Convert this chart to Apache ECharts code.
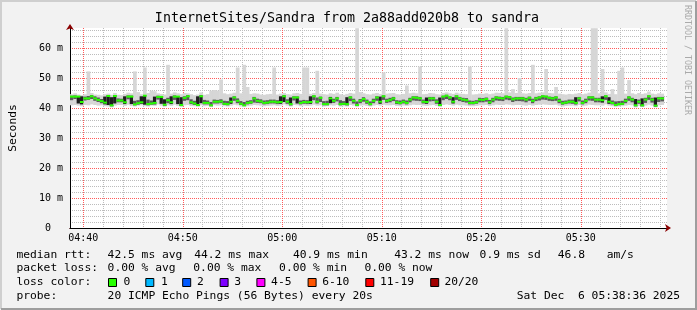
<!DOCTYPE html>
<html><head><meta charset="utf-8">
<script src="https://cdn.jsdelivr.net/npm/echarts@6/dist/echarts.min.js"></script>
<style>html,body{margin:0;padding:0;background:#f2f2f2}#c{width:697px;height:310px}</style>
</head><body><div id="c"></div>
<script>
// ---- data ----
const startTime = '04:38:40';
const endTime = '05:38:40';
const stepSec = 20;
const xTickLabels = ['04:40','04:50','05:00','05:10','05:20','05:30'];
const yTickValues = [0,10,20,30,40,50,60];
const yTop = 66.667; // ms
const median = [43.8,43.8,43.8,42.0,43.2,43.2,43.9,43.2,42.7,42.3,41.8,44.0,40.9,44.0,42.5,42.5,41.9,43.8,43.8,41.2,
41.6,41.9,44.1,41.3,41.5,41.7,43.7,43.7,41.1,42.6,41.9,43.8,43.8,41.0,43.4,43.9,41.9,41.5,41.0,43.9,
41.7,41.7,40.9,42.1,42.1,42.2,41.4,41.3,42.1,43.5,42.4,41.4,40.9,41.7,41.9,43.2,42.4,42.2,41.7,41.8,
42.1,42.1,41.9,42.0,43.9,42.1,41.3,43.5,43.5,41.7,42.0,41.9,42.0,43.9,42.1,43.4,41.3,41.3,43.2,42.4,
43.2,41.3,41.4,41.3,43.5,42.4,41.0,42.4,43.0,42.1,41.3,42.4,43.5,42.1,43.9,42.4,42.7,43.2,41.9,41.7,
42.1,41.7,42.8,43.5,43.4,43.2,42.1,42.0,43.2,43.2,42.1,41.0,43.8,44.1,43.5,42.1,43.9,43.2,42.8,42.6,
41.7,41.7,41.9,42.8,42.7,43.0,41.9,42.8,43.5,43.3,43.2,43.8,43.6,42.9,43.2,43.2,43.2,42.8,43.4,42.4,
43.2,43.5,43.9,43.8,43.4,43.2,43.5,42.4,41.6,41.8,42.1,42.1,41.7,43.2,41.7,42.4,43.5,43.5,42.8,42.8,
42.6,43.9,42.1,41.7,41.0,41.3,41.4,42.4,43.5,42.8,40.9,42.1,40.9,42.8,43.9,42.8,40.8,43.2,43.2];
const pingMin = [40.9,41.0,40.8,40.6,41.0,40.9,41.2,41.0,40.8,40.9,40.6,40.5,40.2,40.8,41.0,41.0,40.7,41.1,40.7,40.5,
40.8,40.9,40.6,40.5,40.8,40.7,41.2,40.8,40.4,40.9,40.7,41.1,40.7,40.3,40.9,41.0,40.7,40.6,40.4,40.9,
40.6,40.7,40.3,40.9,40.8,40.9,40.6,40.5,40.8,41.1,40.9,40.5,40.3,40.6,40.8,41.0,40.9,40.8,40.6,40.7,
40.8,40.9,40.7,40.8,41.2,40.8,40.5,41.0,40.9,40.6,40.8,40.7,40.8,41.1,40.8,40.9,40.5,40.6,40.9,40.8,
41.0,40.5,40.6,40.5,41.0,40.8,40.3,40.8,40.9,40.7,40.5,40.8,41.0,40.8,41.1,40.9,40.9,41.0,40.7,40.6,
40.8,40.7,40.9,41.1,41.0,41.0,40.8,40.7,40.9,41.0,40.7,40.3,41.0,41.2,41.0,40.8,41.1,40.9,40.9,40.8,
40.6,40.6,40.7,40.9,40.9,41.0,40.7,40.9,41.1,41.0,41.0,41.2,41.1,40.9,41.0,41.0,40.9,40.8,41.0,40.8,
41.0,41.1,41.2,41.1,41.0,41.0,41.1,40.8,40.5,40.7,40.8,40.8,40.6,41.0,40.6,40.8,41.1,41.0,40.9,40.9,
40.8,41.2,40.8,40.6,40.3,40.5,40.6,40.8,41.0,40.9,40.2,40.7,40.3,40.8,41.1,40.8,40.2,40.9,41.0];
const pingLow = [42.6,43.0,41.5,41.2,42.5,42.7,43.0,42.4,42.0,41.6,41.2,41.0,40.6,41.5,41.9,41.9,41.3,42.9,41.3,40.9,
41.1,41.4,41.1,40.9,41.1,41.2,42.8,41.4,40.8,41.6,41.3,42.7,41.3,40.7,42.4,42.6,41.3,41.0,40.7,41.6,
41.2,41.2,40.6,41.5,41.5,41.6,41.0,40.9,41.4,42.4,41.6,41.0,40.7,41.2,41.4,41.8,41.7,41.6,41.2,41.3,
41.5,41.5,41.3,41.4,42.0,41.4,40.9,42.5,41.5,41.2,41.4,41.3,41.4,42.6,41.5,42.0,40.9,40.9,41.6,41.7,
42.2,40.9,41.0,40.9,42.3,41.5,40.7,41.6,42.1,41.4,40.9,41.6,42.4,41.4,42.7,41.7,41.9,42.3,41.3,41.2,
41.5,41.2,41.9,42.5,42.4,42.3,41.5,41.4,42.2,42.3,41.4,40.7,42.6,43.0,42.6,41.5,42.7,42.3,42.0,41.8,
41.2,41.2,41.4,41.9,41.9,42.1,41.3,41.9,42.5,42.4,42.3,42.8,42.6,42.0,42.3,42.3,42.2,41.9,42.4,41.6,
42.3,42.5,42.8,42.7,42.4,42.3,42.4,41.6,41.1,41.3,41.5,41.4,41.2,42.2,41.2,41.6,42.5,42.4,41.9,41.9,
41.8,42.7,41.4,41.2,40.7,40.9,41.0,41.6,42.4,41.9,40.6,41.4,40.6,41.7,42.7,41.8,40.5,42.0,42.2];
const pingHigh = [44.1,44.2,44.0,43.9,43.8,44.0,44.3,43.9,43.5,43.0,43.8,44.2,43.6,44.3,43.2,43.1,43.9,44.2,44.1,42.4,
42.6,43.9,44.3,42.8,42.5,43.8,44.1,44.0,42.9,43.4,43.9,44.2,44.0,43.6,43.9,44.3,42.9,42.4,43.9,44.2,
42.7,42.5,42.0,42.8,42.7,42.9,42.4,42.3,43.5,43.9,43.2,42.3,42.0,42.4,42.6,43.7,43.1,42.9,42.5,42.6,
42.8,42.8,42.6,43.9,44.2,42.9,43.5,43.9,43.8,42.5,42.7,42.6,43.9,44.2,43.5,43.8,42.3,42.4,43.7,43.1,
43.7,42.6,42.3,43.6,43.9,43.1,42.2,43.0,43.6,42.8,42.2,43.1,43.9,43.8,44.2,43.1,43.4,43.7,42.6,42.5,
42.8,42.5,43.4,43.9,43.9,43.7,42.8,43.5,43.7,43.7,42.9,43.5,44.1,44.4,43.9,43.6,44.2,43.7,43.4,43.3,
42.5,42.4,42.6,43.4,43.3,43.5,42.7,43.4,43.9,43.8,43.7,44.1,44.0,43.5,43.7,43.7,43.7,43.4,43.8,43.1,
43.7,43.9,44.2,44.1,43.8,43.7,43.9,43.1,42.4,42.5,42.8,42.8,43.6,43.7,42.5,43.1,43.9,43.9,43.4,43.4,
43.9,44.2,43.6,42.5,42.2,42.3,42.4,43.1,43.9,43.4,43.0,42.8,43.2,43.4,44.2,43.4,43.5,43.7,43.7];
const pingMax = [44.6,44.9,44.5,44.3,44.6,52.2,45.0,44.5,44.4,44.2,44.6,44.8,44.4,45.0,44.4,44.3,44.7,45.1,44.9,52.2,
45.3,44.6,53.5,45.0,45.8,45.6,44.9,44.7,44.5,54.4,44.8,45.2,44.9,44.6,45.0,44.9,44.6,44.3,44.5,45.2,
44.4,44.6,45.8,46.0,45.8,49.5,44.9,44.6,44.8,45.1,53.5,44.9,54.4,47.0,44.7,44.9,44.8,44.5,44.4,44.6,
44.7,53.5,44.5,44.8,45.0,44.6,44.5,44.9,45.0,44.7,53.5,53.5,44.7,45.0,52.4,44.8,44.6,44.5,44.9,44.7,
45.1,44.6,44.4,44.7,45.0,44.8,66.6,45.3,44.9,44.6,44.5,44.8,45.0,44.7,51.9,44.8,44.9,45.0,44.6,44.5,
44.7,47.5,44.9,45.1,44.9,53.8,44.6,44.7,45.0,44.9,44.6,44.5,45.0,45.2,44.9,44.7,45.1,44.8,44.7,44.6,
53.8,44.5,44.6,44.8,44.7,44.9,44.6,44.8,45.1,45.0,44.9,66.6,45.2,46.3,45.0,50.0,44.9,44.8,45.0,54.4,
44.9,45.1,45.2,53.0,45.0,44.9,47.0,44.8,44.6,44.5,44.7,44.6,44.8,45.0,44.6,44.8,45.1,66.6,66.6,44.9,
53.0,45.2,44.7,46.3,44.6,52.4,53.5,44.8,49.3,44.9,44.6,45.0,44.7,44.9,45.5,44.8,44.6,44.9,44.8];

// ---- helpers ----
const toSec = s => { const p = s.split(':').map(Number); return p[0]*3600 + p[1]*60 + (p[2]||0); };
const pad = n => (n < 10 ? '0' : '') + n;
const fmtHM = v => pad(Math.floor(v/3600)) + ':' + pad(Math.floor((v%3600)/60));
const t0 = toSec(startTime), t1 = toSec(endTime);
const majorX = xTickLabels.map(s => toSec(s));
const minorX = [];
for (let s = Math.ceil(t0/120)*120; s <= t1; s += 120) if (majorX.indexOf(s) < 0) minorX.push(s);
const minorY = [];
for (let v = 2; v < yTop; v += 2) if (v % 10 !== 0) minorY.push(v);

const smokeData = median.map((m, i) => [t0 + i*stepSec, pingMin[i], pingLow[i], pingHigh[i], pingMax[i], m]);

const MONO = 'DejaVu Sans Mono';
const MINOR = '#bcbcbc', MAJOR = '#ff5a5a';
const chart = echarts.init(document.getElementById('c'), null, {renderer: 'canvas'});

const txt = (x, y, text, opts) => Object.assign({
  type: 'text', x: x, y: y, silent: true,
  style: Object.assign({text: text, fill: '#000', font: '11.3px "' + MONO + '"', textVerticalAlign: 'middle'}, opts || {})
});
const lossItems = [
  ['0', '#26ff00', 108, 123.6], ['1', '#00b8ff', 145.3, 160.9], ['2', '#0059ff', 182.2, 196.9],
  ['3', '#7e00ff', 219.6, 234.2], ['4-5', '#ff00ff', 256.4, 271.1], ['6-10', '#ff5500', 307.6, 322.2],
  ['11-19', '#ff0000', 365.3, 380], ['20/20', '#a10000', 430.2, 444.4]
];
const graphics = [
  {type: 'polyline', shape: {points: [[1, 309], [1, 1], [696, 1]]}, style: {stroke: '#cfcfcf', lineWidth: 2, fill: null}, silent: true},
  {type: 'polyline', shape: {points: [[1, 309], [696, 309], [696, 1]]}, style: {stroke: '#9e9e9e', lineWidth: 2, fill: null}, silent: true},
  txt(347, 19, 'InternetSites/Sandra from 2a88add020b8 to sandra', {font: '13.3px "' + MONO + '"', textAlign: 'center'}),
  {type: 'text', x: 687, y: 5, rotation: -Math.PI/2, silent: true,
   style: {text: 'RRDTOOL / TOBI OETIKER', fill: '#aaaaaa', font: '8.3px "' + MONO + '"', textVerticalAlign: 'middle', textAlign: 'left'}},
  txt(16.4, 255, 'median rtt:'), txt(107.6, 255, '42.5 ms avg'), txt(194.2, 255, '44.2 ms max'),
  txt(292.9, 255, '40.9 ms min'), txt(394.2, 255, '43.2 ms now'), txt(479.6, 255, '0.9 ms sd'),
  txt(557.8, 255, '46.8'), txt(606.7, 255, 'am/s'),
  txt(16.4, 268.5, 'packet loss:'), txt(107.6, 268.5, '0.00 % avg'), txt(193.3, 268.5, '0.00 % max'),
  txt(279.1, 268.5, '0.00 % min'), txt(364.4, 268.5, '0.00 % now'),
  txt(16.4, 282.5, 'loss color:'),
  txt(16.4, 296, 'probe:'), txt(107.6, 296, '20 ICMP Echo Pings (56 Bytes) every 20s'),
  txt(680, 296, 'Sat Dec  6 05:38:36 2025', {textAlign: 'right'})
];
lossItems.forEach(it => {
  graphics.push({type: 'rect', shape: {x: it[2] + 0.5, y: 278.5, width: 8, height: 8}, style: {fill: it[1], stroke: '#000', lineWidth: 1}, silent: true});
  graphics.push(txt(it[3], 282.5, it[0]));
});

const dotted = c => ({show: true, lineStyle: {color: c, width: 1, type: [1, 1]}});
chart.setOption({
  animation: false,
  backgroundColor: '#f2f2f2',
  grid: {left: 67, top: 28, width: 600, height: 200, show: true, backgroundColor: '#ffffff', borderWidth: 0},
  xAxis: [
    {type: 'value', min: t0, max: t1, position: 'bottom', axisLabel: {show: false},
     axisLine: {show: true, onZero: false, symbol: ['none', 'arrow'], symbolSize: [6, 6], symbolOffset: [0, 4], lineStyle: {color: '#8b0000', width: 1}},
     axisTick: {show: false, customValues: minorX},
     splitLine: dotted(MINOR)},
    {type: 'value', min: t0, max: t1, position: 'bottom',
     axisLine: {show: true, onZero: false, lineStyle: {color: '#000', width: 1}},
     axisTick: {show: false, customValues: majorX},
     axisLabel: {customValues: majorX, formatter: v => fmtHM(v), fontFamily: MONO, fontSize: 10, color: '#000', margin: 5, hideOverlap: false},
     splitLine: dotted(MAJOR)}
  ],
  yAxis: [
    {type: 'value', min: 0, max: yTop, position: 'left',
     axisLine: {show: true, onZero: false, symbol: ['none', 'arrow'], symbolSize: [6, 6], symbolOffset: [0, 4], lineStyle: {color: '#8b0000', width: 1}},
     axisTick: {show: false, customValues: minorY}, axisLabel: {show: false},
     splitLine: dotted(MINOR)},
    {type: 'value', min: 0, max: yTop, position: 'left',
     name: 'Seconds', nameLocation: 'middle', nameGap: 51, nameRotate: 90,
     nameTextStyle: {fontFamily: MONO, fontSize: 11.3, color: '#000'},
     axisLine: {show: true, onZero: false, lineStyle: {color: '#000', width: 1}},
     axisTick: {show: false, customValues: yTickValues},
     axisLabel: {customValues: yTickValues, formatter: v => (v === 0 ? '0  ' : v + ' m'), fontFamily: MONO, fontSize: 10, color: '#000', margin: 7},
     splitLine: dotted(MAJOR)}
  ],
  series: [
    {type: 'custom', xAxisIndex: 1, yAxisIndex: 1, data: smokeData, encode: {x: 0, y: [1, 4]}, silent: true, z: 2,
     renderItem: function (params, api) {
       const t = api.value(0);
       const xa = api.coord([t, 0])[0], xb = api.coord([t + stepSec, 0])[0];
       const yMin = api.coord([t, api.value(1)])[1], yLo = api.coord([t, api.value(2)])[1];
       const yHi = api.coord([t, api.value(3)])[1], yMax = api.coord([t, api.value(4)])[1];
       const spread = api.value(3) - api.value(2);
       return {type: 'group', children: [
         {type: 'rect', shape: {x: xa, y: yMax, width: xb - xa + 0.4, height: yMin - yMax}, style: {fill: '#d6d6d6'}},
         {type: 'rect', shape: {x: xa, y: yHi, width: xb - xa + 0.4, height: yLo - yHi}, style: {fill: spread > 2 ? '#1e1e1e' : '#5a5a5a'}}
       ]};
     }},
    {type: 'custom', xAxisIndex: 1, yAxisIndex: 1, data: smokeData, encode: {x: 0, y: 5}, silent: true, z: 3,
     renderItem: function (params, api) {
       const t = api.value(0);
       const a = api.coord([t, api.value(5)]), b = api.coord([t + stepSec, api.value(5)]);
       return {type: 'rect', shape: {x: a[0], y: a[1] - 1, width: b[0] - a[0] + 0.4, height: 2}, style: {fill: '#26ff00'}};
     }}
  ],
  graphic: graphics
});
</script></body></html>
